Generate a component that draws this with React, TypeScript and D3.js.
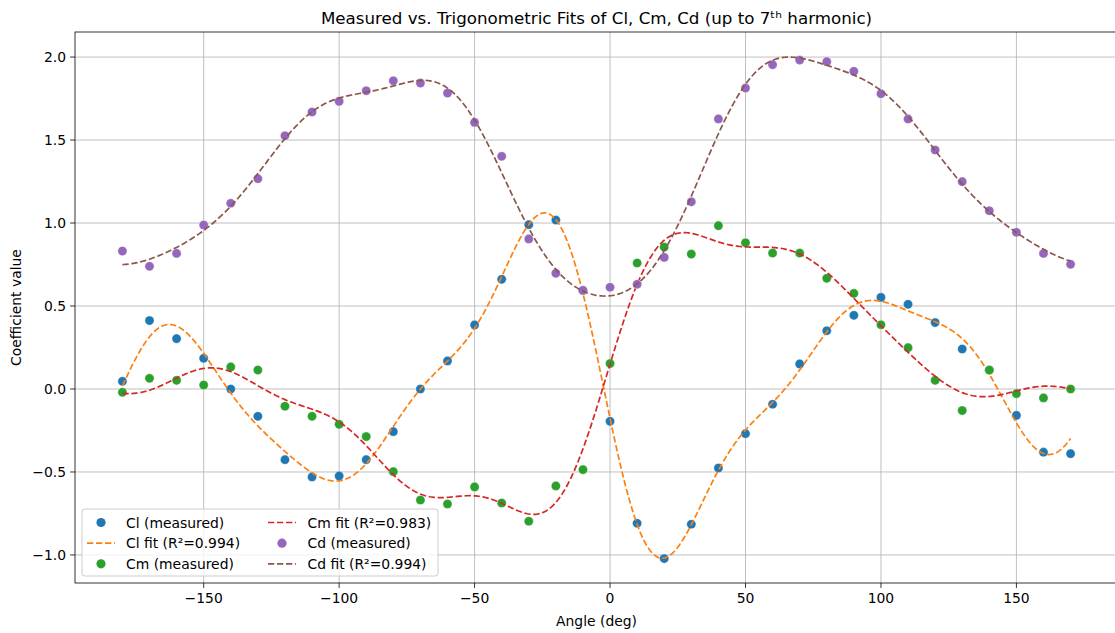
import React from "react";
import * as d3 from "d3";

const angles: number[] = [
  -180, -170, -160, -150, -140, -130, -120, -110, -100, -90, -80, -70, -60, -50, -40, -30, -20, -10,
  0, 10, 20, 30, 40, 50, 60, 70, 80, 90, 100, 110, 120, 130, 140, 150, 160, 170,
];

const clMeasured: number[] = [
  0.046, 0.412, 0.303, 0.185, 0.0, -0.165, -0.426, -0.53, -0.524, -0.426, -0.257, 0.0, 0.169, 0.386, 0.661, 0.99, 1.018, 0.594,
  -0.195, -0.809, -1.022, -0.815, -0.476, -0.269, -0.092, 0.151, 0.351, 0.444, 0.552, 0.51, 0.4, 0.241, 0.114, -0.159, -0.381, -0.39,
];

const cmMeasured: number[] = [
  -0.02, 0.064, 0.052, 0.024, 0.133, 0.114, -0.104, -0.165, -0.213, -0.287, -0.498, -0.669, -0.693, -0.59, -0.687, -0.797, -0.584, -0.486,
  0.153, 0.759, 0.855, 0.813, 0.984, 0.881, 0.819, 0.819, 0.667, 0.576, 0.387, 0.249, 0.052, -0.13, 0.114, -0.028, -0.054, 0.0,
];

const cdMeasured: number[] = [
  0.831, 0.739, 0.817, 0.988, 1.119, 1.267, 1.526, 1.669, 1.733, 1.797, 1.857, 1.843, 1.783, 1.606, 1.402, 0.904, 0.697, 0.594,
  0.613, 0.631, 0.793, 1.128, 1.627, 1.813, 1.954, 1.982, 1.972, 1.914, 1.779, 1.627, 1.44, 1.249, 1.074, 0.944, 0.817, 0.751,
];

const xTicks: number[] = [-150, -100, -50, 0, 50, 100, 150];
const yTicks: number[] = [-1.0, -0.5, 0.0, 0.5, 1.0, 1.5, 2.0];

const legendLabels: string[] = [
  "Cl (measured)",
  "Cl fit (R\u00b2=0.994)",
  "Cm (measured)",
  "Cm fit (R\u00b2=0.983)",
  "Cd (measured)",
  "Cd fit (R\u00b2=0.994)",
];

const HARMONICS = 7;

// Least-squares trigonometric fit (same method as the chart's title describes)
function trigFit(xs: number[], ys: number[], K: number) {
  const basis = (deg: number) => {
    const t = (deg * Math.PI) / 180;
    const row = [1];
    for (let k = 1; k <= K; k++) {
      row.push(Math.cos(k * t));
      row.push(Math.sin(k * t));
    }
    return row;
  };
  const n = 2 * K + 1;
  const A: number[][] = Array.from({ length: n }, () => new Array(n + 1).fill(0));
  xs.forEach((x, i) => {
    const r = basis(x);
    for (let a = 0; a < n; a++) {
      for (let b = 0; b < n; b++) A[a][b] += r[a] * r[b];
      A[a][n] += r[a] * ys[i];
    }
  });
  for (let c = 0; c < n; c++) {
    let p = c;
    for (let r = c + 1; r < n; r++) if (Math.abs(A[r][c]) > Math.abs(A[p][c])) p = r;
    [A[c], A[p]] = [A[p], A[c]];
    for (let r = 0; r < n; r++) {
      if (r === c) continue;
      const f = A[r][c] / A[c][c];
      for (let k = c; k <= n; k++) A[r][k] -= f * A[c][k];
    }
  }
  const coef = A.map((row, i) => row[n] / row[i]);
  return (deg: number) => basis(deg).reduce((s, v, i) => s + v * coef[i], 0);
}

const W = 1115;
const H = 633;
const left = 75;
const right = 1118;
const top = 32;
const bottom = 583;

const FONT = "'DejaVu Sans', sans-serif";

export default function App() {
  const x = d3.scaleLinear().domain([-197.5, 187.5]).range([left, right]);
  const y = d3.scaleLinear().domain([-1.169, 2.151]).range([bottom, top]);

  const dense = d3.range(-180, 170.001, 0.5);
  const line = d3
    .line<[number, number]>()
    .x((d) => x(d[0]))
    .y((d) => y(d[1]))
    .curve(d3.curveLinear);

  const series = [
    { data: clMeasured, dot: "#1f77b4", fitColor: "#ff7f0e" },
    { data: cmMeasured, dot: "#2ca02c", fitColor: "#d62728" },
    { data: cdMeasured, dot: "#9467bd", fitColor: "#8c564b" },
  ];

  const fits = series.map((s) => {
    const f = trigFit(angles, s.data, HARMONICS);
    return dense.map((d) => [d, f(d)] as [number, number]);
  });

  const fmtY = (v: number) => v.toFixed(1).replace("-", "\u2212");
  const fmtX = (v: number) => String(v).replace("-", "\u2212");

  const lw = 1.7;
  const dash = `${(3.7 * lw).toFixed(2)} ${(1.6 * lw).toFixed(2)}`;

  // legend
  const lgX = 82;
  const lgY = 509;
  const lgW = 356;
  const lgH = 67;
  const rowY = [522.5, 543.2, 563.8];
  const col = [
    { handle: 87, text: 126 },
    { handle: 268, text: 307.5 },
  ];
  const legendItems = [
    { type: "dot", color: "#1f77b4" },
    { type: "line", color: "#ff7f0e" },
    { type: "dot", color: "#2ca02c" },
    { type: "line", color: "#d62728" },
    { type: "dot", color: "#9467bd" },
    { type: "line", color: "#8c564b" },
  ];

  return (
    <svg
      width={W}
      height={H}
      style={{ position: "absolute", left: 0, top: 0, background: "#fff" }}
      fontFamily={FONT}
    >
      <rect x={0} y={0} width={W} height={H} fill="#fff" />
      <defs>
        <clipPath id="plotclip">
          <rect x={left} y={top} width={right - left} height={bottom - top} />
        </clipPath>
      </defs>
      {/* grid */}
      <g stroke="#b0b0b0" strokeWidth={0.8}>
        {xTicks.map((t) => (
          <line key={"gx" + t} x1={x(t)} x2={x(t)} y1={top} y2={bottom} />
        ))}
        {yTicks.map((t) => (
          <line key={"gy" + t} x1={left} x2={right} y1={y(t)} y2={y(t)} />
        ))}
      </g>

      <g clipPath="url(#plotclip)">
        {series.map((s, si) => (
          <g key={"s" + si}>
            {s.data.map((v, i) => (
              <circle
                key={i}
                cx={x(angles[i])}
                cy={y(v)}
                r={4.6}
                fill={s.dot}
                stroke="#fff"
                strokeOpacity={0.6}
                strokeWidth={0.6}
              />
            ))}
            <path
              d={line(fits[si]) || ""}
              fill="none"
              stroke={s.fitColor}
              strokeWidth={lw}
              strokeDasharray={dash}
            />
          </g>
        ))}
      </g>

      {/* spines */}
      <g stroke="#000" strokeWidth={0.8} fill="none">
        <rect x={left} y={top} width={right - left} height={bottom - top} />
      </g>

      {/* ticks */}
      <g fontSize={13.9} fill="#000">
        {xTicks.map((t) => (
          <g key={"xt" + t}>
            <line x1={x(t)} x2={x(t)} y1={bottom} y2={bottom + 4.9} stroke="#000" strokeWidth={0.8} />
            <text x={x(t)} y={bottom + 9.8} textAnchor="middle" dominantBaseline="hanging">
              {fmtX(t)}
            </text>
          </g>
        ))}
        {yTicks.map((t) => (
          <g key={"yt" + t}>
            <line x1={left - 4.9} x2={left} y1={y(t)} y2={y(t)} stroke="#000" strokeWidth={0.8} />
            <text x={left - 9} y={y(t)} textAnchor="end" dominantBaseline="central">
              {fmtY(t)}
            </text>
          </g>
        ))}
      </g>

      {/* axis labels */}
      <text x={(left + right) / 2} y={626} textAnchor="middle" fontSize={13.9}>
        Angle (deg)
      </text>
      <text
        transform={`translate(21,${(top + bottom) / 2}) rotate(-90)`}
        textAnchor="middle"
        fontSize={13.9}
      >
        Coefficient value
      </text>

      {/* title */}
      <text x={(left + right) / 2} y={24} textAnchor="middle" fontSize={16.7}>
        {"Measured vs. Trigonometric Fits of Cl, Cm, Cd (up to 7\u1D57\u02B0 harmonic)"}
      </text>

      {/* legend */}
      <g>
        <rect
          x={lgX}
          y={lgY}
          width={lgW}
          height={lgH}
          rx={3}
          fill="#fff"
          fillOpacity={0.8}
          stroke="#cccccc"
          strokeWidth={1}
        />
        {legendItems.map((it, i) => {
          const c = col[Math.floor(i / 3)];
          const yy = rowY[i % 3];
          return (
            <g key={"lg" + i}>
              {it.type === "dot" ? (
                <circle cx={c.handle + 14} cy={yy} r={4.6} fill={it.color} />
              ) : (
                <line
                  x1={c.handle}
                  x2={c.handle + 28}
                  y1={yy}
                  y2={yy}
                  stroke={it.color}
                  strokeWidth={lw}
                  strokeDasharray={dash}
                />
              )}
              <text x={c.text} y={yy} dominantBaseline="central" fontSize={13.9}>
                {legendLabels[i]}
              </text>
            </g>
          );
        })}
      </g>
    </svg>
  );
}
